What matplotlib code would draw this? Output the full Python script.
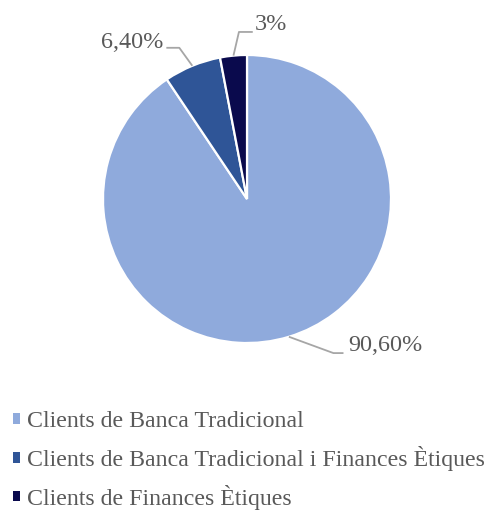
import numpy as np
import matplotlib.pyplot as plt

plt.rcParams['font.family'] = ['Liberation Serif', 'DejaVu Serif']

labels = ["Clients de Banca Tradicional",
          "Clients de Banca Tradicional i Finances Ètiques",
          "Clients de Finances Ètiques"]
values = [90.6, 6.4, 3.0]
value_labels = ["90,60%", "6,40%", "3%"]
colors = ["#8FAADC", "#2F5597", "#0A0A4D"]

text_color = "#595959"
line_color = "#A6A6A6"

fig = plt.figure(figsize=(4.89, 5.11), dpi=100)
W, H = 489, 511
cx, cy, r = 247, 199, 144
ax = fig.add_axes([(cx - r) / W, (H - cy - r) / H, 2 * r / W, 2 * r / H])

wedges, _ = ax.pie(values, colors=colors, startangle=90, counterclock=False,
                   radius=1, wedgeprops=dict(edgecolor="white", linewidth=1.6))
ax.set_xlim(-1, 1)
ax.set_ylim(-1, 1)
ax.set_aspect("equal")
ax.axis("off")

# leader line elbows / ends and text positions (axes data units)
elbows = [((0.60, -1.07), (0.67, -1.07)),
          ((-0.47, 1.05), (-0.56, 1.05)),
          ((-0.056, 1.16), (0.04, 1.16))]
text_pos = [((0.70, -1.02), "left"),
            ((-0.58, 1.09), "right"),
            ((0.056, 1.21), "left")]

for w, lab, (e1, e2), ((tx, ty), ha) in zip(wedges, value_labels, elbows, text_pos):
    ang = np.deg2rad((w.theta1 + w.theta2) / 2)
    x0, y0 = np.cos(ang), np.sin(ang)
    ax.plot([x0, e1[0], e2[0]], [y0, e1[1], e2[1]], color=line_color,
            lw=1.3, clip_on=False, solid_capstyle="butt")
    ax.text(tx, ty, lab, ha=ha, va="center", fontsize=17.4, color=text_color,
            clip_on=False)

leg = fig.legend(wedges, labels, loc="upper left", bbox_to_anchor=(0.016, 0.205),
                 frameon=False, fontsize=17.2, handlelength=0.3, handleheight=0.3,
                 handletextpad=0.3, labelspacing=0.58, borderaxespad=0,
                 borderpad=0.2)
for t in leg.get_texts():
    t.set_color(text_color)
for p in leg.get_patches():
    p.set_edgecolor("none")

fig.savefig("out.png", dpi=100)
